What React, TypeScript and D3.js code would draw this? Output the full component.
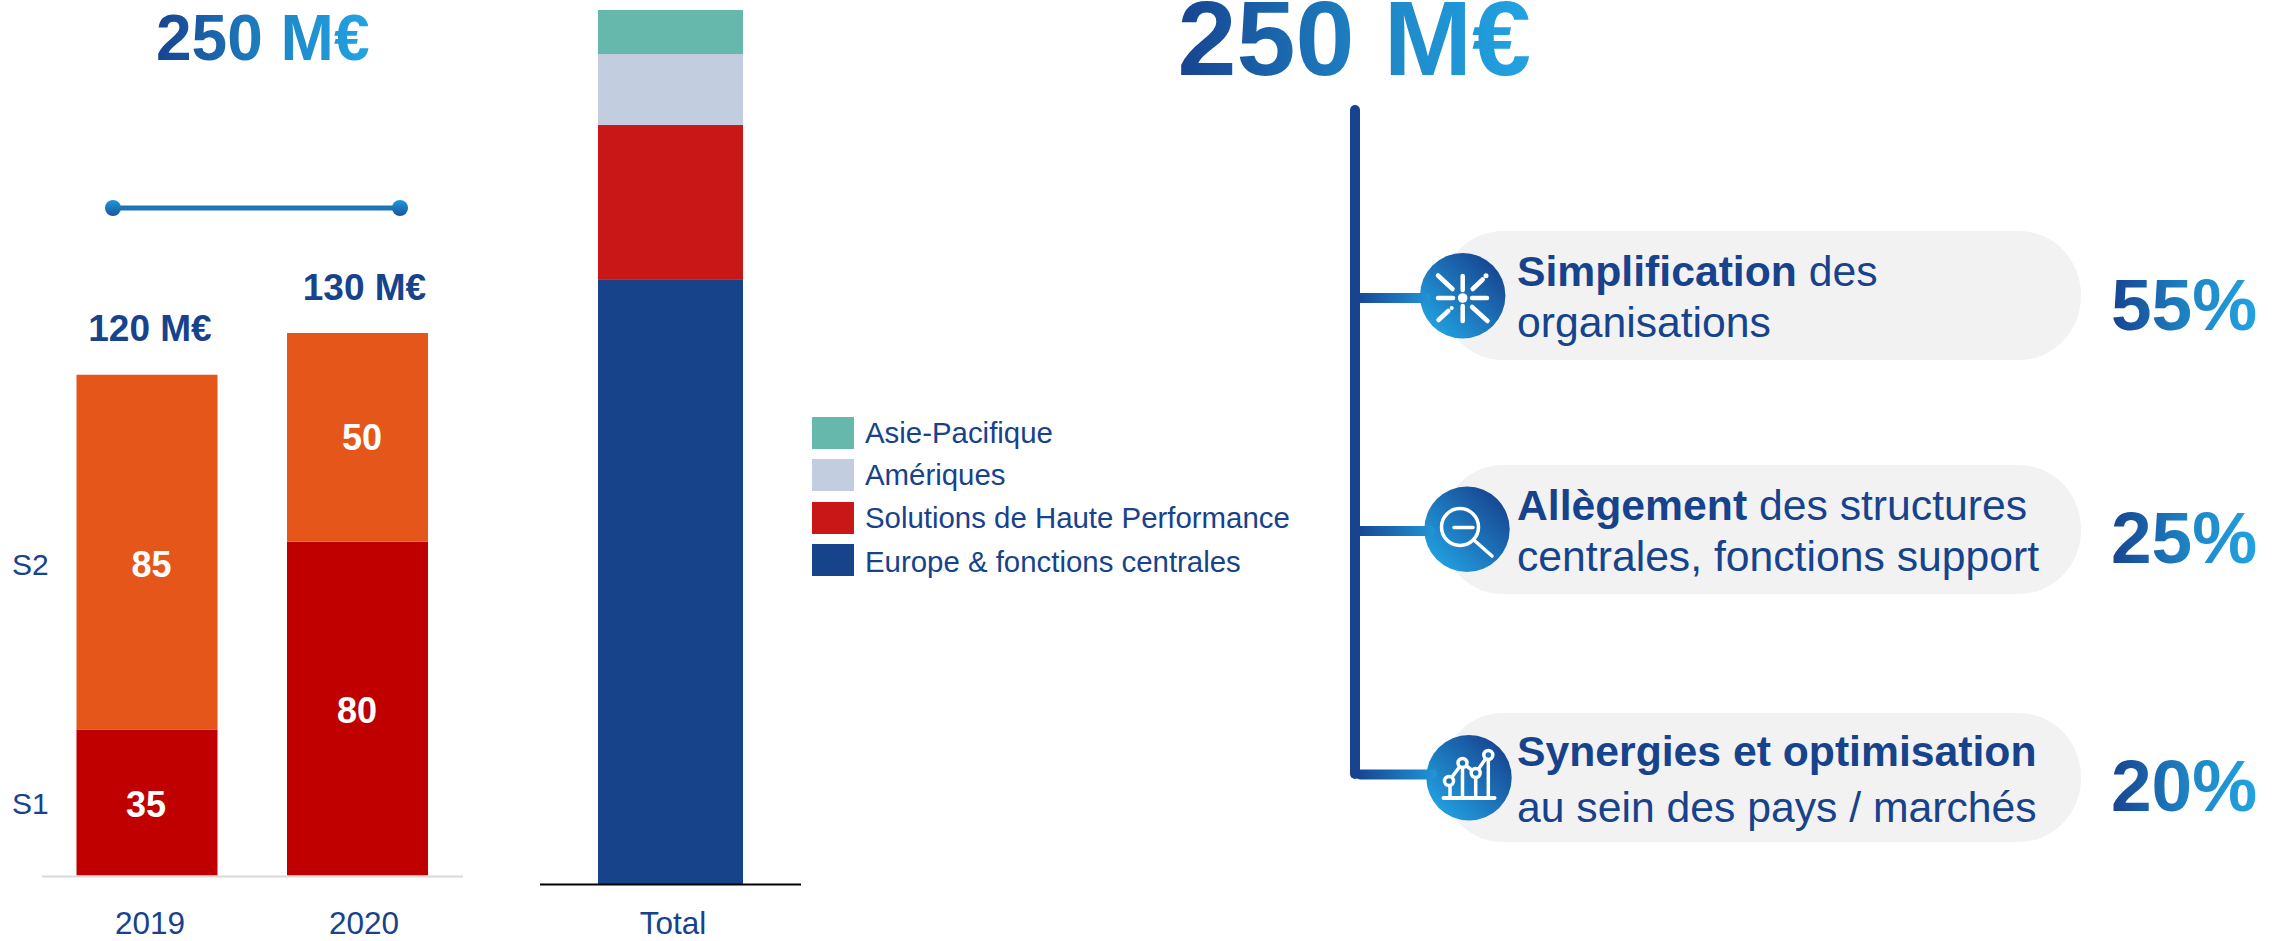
import React from "react";
import * as d3 from "d3";

const years = ["2019", "2020"];
const s1Values = [35, 80];
const s2Values = [85, 50];
const yearTotals = ["120 M€", "130 M€"];
const periodLabels = ["S1", "S2"];
const regions = ["Europe & fonctions centrales", "Solutions de Haute Performance", "Amériques", "Asie-Pacifique"];
const regionValues = [172.8, 44.3, 20.3, 12.6];
const regionColors = ["#17438b", "#c91616", "#c2cde0", "#66b8ac"];
const pillBold = ["Simplification", "Allègement", "Synergies et optimisation"];
const pillRest = [" des", " des structures", ""];
const pillSecond = ["organisations", "centrales, fonctions support", "au sein des pays / marchés"];
const shares = ["55%", "25%", "20%"];
const FONT = "'Liberation Sans', Arial, sans-serif";
const INK = "#17428c";

export default function App() {
  const yLeft = d3.scaleLinear().domain([0, 130]).range([875.5, 333]);
  const xLeft = d3.scaleOrdinal<string, number>().domain(years).range([76.5, 287]);
  const barW = 141;
  const yTotal = d3.scaleLinear().domain([0, 250]).range([884, 10]);
  const stack = d3.stack<number[]>().keys(regions.map((_, i) => String(i))).value((_, k) => regionValues[+k]);
  const stacked = stack([[0]]);

  const pillTops = [231, 465, 713];
  const textLines = [[286, 337], [520, 571], [766, 822]];
  const pctBase = [330, 563, 811];
  const circles = [[1462.7, 295.7], [1467, 529.3], [1469, 777.7]];
  const branchY = [298, 531, 774.5];

  const swatchY = [544, 502, 459, 417];
  const legendBase = [572, 528, 485, 443];
  const chartPts = [[1449, 781], [1462.5, 763], [1475.7, 773], [1488.3, 755]];

  return (
    <svg width={2287} height={941} style={{ position: "absolute", left: 0, top: 0 }} fontFamily={FONT}>
      <defs>
        <linearGradient id="txt" x1="0" x2="1" y1="0" y2="0">
          <stop offset="0" stopColor="#174390" />
          <stop offset="0.55" stopColor="#1e86c6" />
          <stop offset="1" stopColor="#22a3e2" />
        </linearGradient>
        <linearGradient id="disc" x1="0" y1="1" x2="1" y2="0">
          <stop offset="0.1" stopColor="#22a3e2" />
          <stop offset="0.9" stopColor="#174390" />
        </linearGradient>
        <linearGradient id="dot" x1="0" y1="0" x2="0" y2="1">
          <stop offset="0" stopColor="#1f97d8" />
          <stop offset="1" stopColor="#19559c" />
        </linearGradient>
        <linearGradient id="branch" x1="0" y1="0" x2="1" y2="0">
          <stop offset="0" stopColor="#174390" />
          <stop offset="1" stopColor="#2196d8" />
        </linearGradient>
      </defs>

      {/* left panel */}
      <text x={156} y={59.5} fontSize={64} fontWeight="bold" fill="url(#txt)">250 M€</text>
      <line x1={113} x2={400} y1={208} y2={208} stroke="#1c74b6" strokeWidth={5} />
      <circle cx={113} cy={208} r={8} fill="url(#dot)" />
      <circle cx={400} cy={208} r={8} fill="url(#dot)" />

      {years.map((yr, i) => {
        const x = xLeft(yr);
        const s1 = s1Values[i];
        const s2 = s2Values[i];
        return (
          <g key={yr}>
            <rect x={x} width={barW} y={yLeft(s1)} height={yLeft(0) - yLeft(s1)} fill="#c00000" />
            <rect x={x} width={barW} y={yLeft(s1 + s2)} height={yLeft(s1) - yLeft(s1 + s2)} fill="#e5561b" />
          </g>
        );
      })}
      <line x1={42} x2={463} y1={876.5} y2={876.5} stroke="#d9d9d9" strokeWidth={2} />

      <g fontSize={36} fontWeight="bold" fill="#fff" textAnchor="middle">
        <text x={146} y={817}>{s1Values[0]}</text>
        <text x={151.5} y={577}>{s2Values[0]}</text>
        <text x={357} y={723}>{s1Values[1]}</text>
        <text x={362} y={450}>{s2Values[1]}</text>
      </g>
      <g fontSize={37} fontWeight="bold" fill={INK} textAnchor="middle">
        <text x={150} y={341}>{yearTotals[0]}</text>
        <text x={364.5} y={300}>{yearTotals[1]}</text>
      </g>
      <g fontSize={30} fill={INK}>
        <text x={12} y={814}>{periodLabels[0]}</text>
        <text x={12} y={575}>{periodLabels[1]}</text>
      </g>
      <g fontSize={31.5} fill={INK} textAnchor="middle">
        <text x={150} y={934}>{years[0]}</text>
        <text x={364} y={934}>{years[1]}</text>
        <text x={673} y={934}>Total</text>
      </g>

      {/* total bar */}
      {stacked.map((layer, i) => (
        <rect key={i} x={598} width={145} y={yTotal(layer[0][1])} height={yTotal(layer[0][0]) - yTotal(layer[0][1])} fill={regionColors[i]} />
      ))}
      <line x1={540} x2={801} y1={884.5} y2={884.5} stroke="#000" strokeWidth={2} />

      {/* legend */}
      {regions.map((r, i) => (
        <g key={r}>
          <rect x={812} y={swatchY[i]} width={42} height={32} fill={regionColors[i]} />
          <text x={865} y={legendBase[i]} fontSize={29.4} fill={INK}>{r}</text>
        </g>
      ))}

      {/* right panel */}
      <text x={1177.5} y={75} fontSize={106} fontWeight="bold" fill="url(#txt)">250 M€</text>
      {pillTops.map((t, i) => (
        <rect key={i} x={1441} y={t} width={640} height={129} rx={62} ry={64} fill="#f2f2f2" />
      ))}
      {branchY.map((y, i) => (
        <g key={i}>
          <circle cx={circles[i][0]} cy={circles[i][1]} r={42.7} fill="url(#disc)" />
          <rect x={1355} y={y - 5} width={circles[i][0] - 43 + 11 - 1355} height={10} rx={5} fill="url(#branch)" />
        </g>
      ))}
      <line x1={1355} x2={1355} y1={110} y2={774} stroke="#17438f" strokeWidth={10} strokeLinecap="round" />

      {/* icon 1 */}
      <g stroke="#fff" strokeWidth={4.5} strokeLinecap="round" fill="none">
        <line x1={1438} x2={1453} y1={298} y2={298} />
        <line x1={1472} x2={1487} y1={298} y2={298} />
        <line x1={1462.7} x2={1462.7} y1={276} y2={290} />
        <line x1={1462.7} x2={1462.7} y1={306} y2={321} />
        <line x1={1438} x2={1452.5} y1={275.5} y2={289} />
        <line x1={1472} x2={1487.5} y1={307} y2={321} />
        <line x1={1472.7} x2={1482.7} y1={289} y2={279.5} />
        <line x1={1438.5} x2={1448.3} y1={320} y2={311} />
      </g>
      <circle cx={1462.7} cy={298} r={4.8} fill="#fff" />
      <circle cx={1486} cy={275.7} r={2.5} fill="#fff" />
      <circle cx={1451.7} cy={308} r={2} fill="#fff" />

      {/* icon 2 */}
      <g stroke="#fff" fill="none" strokeLinecap="round">
        <circle cx={1460} cy={527} r={18.5} strokeWidth={3.5} />
        <line x1={1454} x2={1473} y1={527.5} y2={527.5} strokeWidth={3.5} />
        <line x1={1475} x2={1492} y1={541} y2={556} strokeWidth={3.5} />
      </g>

      {/* icon 3 */}
      <g stroke="#fff" fill="none">
        <line x1={1443.5} x2={1494.5} y1={798} y2={798} strokeWidth={4} strokeLinecap="round" />
        {chartPts.map((p, i) => (
          <line key={i} x1={p[0] + (i === 0 ? 1 : 0)} x2={p[0] + (i === 0 ? 1 : 0)} y1={p[1] + 5} y2={798} strokeWidth={3.5} />
        ))}
        <path d={d3.line()(chartPts as [number, number][]) ?? ""} strokeWidth={3.5} />
        {chartPts.map((p, i) => (
          <circle key={i} cx={p[0]} cy={p[1]} r={4.5} strokeWidth={3.5} fill="#1b70b4" />
        ))}
      </g>

      {pillBold.map((b, i) => (
        <g key={b} fontSize={42.7} fill={INK}>
          <text x={1517} y={textLines[i][0]} xmlSpace="preserve">
            <tspan fontWeight="bold">{b}</tspan>
            <tspan>{pillRest[i]}</tspan>
          </text>
          <text x={1517} y={textLines[i][1]}>{pillSecond[i]}</text>
        </g>
      ))}
      {shares.map((s, i) => (
        <text key={s} x={2111} y={pctBase[i]} fontSize={73} fontWeight="bold" fill="url(#txt)">{s}</text>
      ))}
    </svg>
  );
}
